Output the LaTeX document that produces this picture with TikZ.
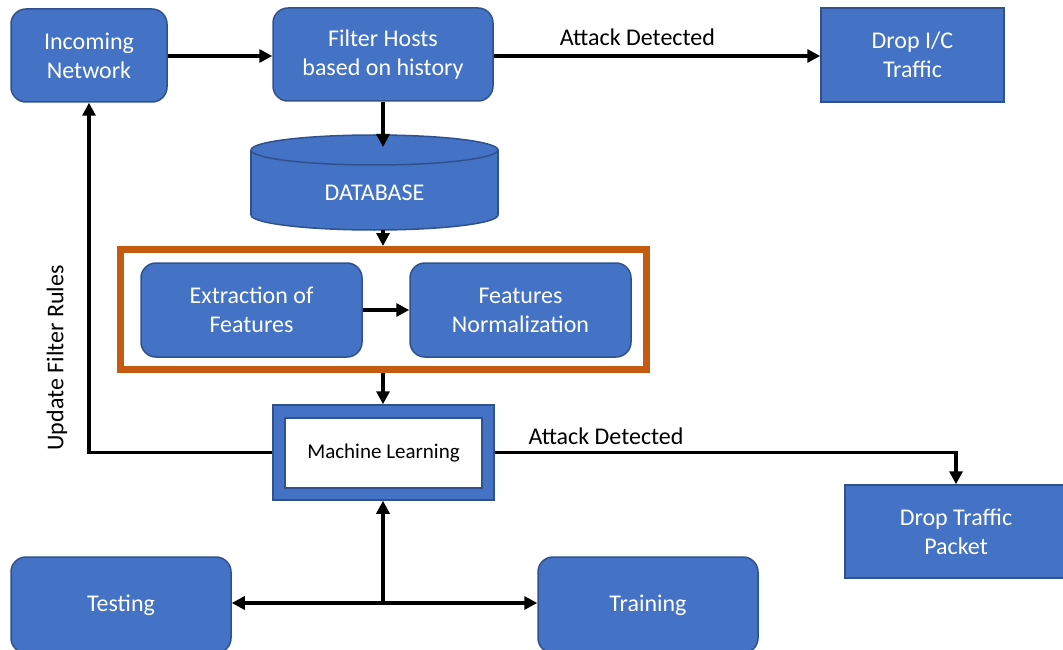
\documentclass[tikz,border=0pt]{standalone}
\usepackage{fontspec}
\setmainfont{Carlito}
\usetikzlibrary{arrows.meta}
\definecolor{bfill}{HTML}{4472C4}
\definecolor{bdraw}{HTML}{2F528F}
\definecolor{orng}{HTML}{C55A11}
\begin{document}
\begin{tikzpicture}[x=1pt,y=-1pt,
  box/.style={draw=bdraw, fill=bfill, line width=1.5pt, text=white, font=\fontsize{24}{29}\selectfont, align=center, inner sep=0pt},
  rbox/.style={box, rounded corners=15pt},
  conn/.style={line width=3.2pt, -{Triangle[length=13pt,width=13pt]}},
  dconn/.style={line width=3.2pt, {Triangle[length=13pt,width=13pt]}-{Triangle[length=13pt,width=13pt]}},
  lab/.style={font=\fontsize{24}{28}\selectfont, text=black, inner sep=0pt}]
\useasboundingbox (0,0) rectangle (1063,650);
\clip (0,0) rectangle (1063,650);
\fill[white] (0,0) rectangle (1063,650);

% top row
\node[rbox, minimum width=156pt, minimum height=93pt] (inc) at (89,55.5) {Incoming\\Network};
\node[rbox, minimum width=220pt, minimum height=93pt] (fh) at (383,54.5) {Filter Hosts\\based on history};
\node[box, minimum width=183pt, minimum height=94pt] (dic) at (912.5,55) {Drop I/C\\Traffic};

% database cylinder
\draw[bdraw, fill=bfill, line width=1.5pt] (374.5,215) ellipse [x radius=123.5, y radius=15];
\fill[bfill] (251,150) rectangle (498,215);
\draw[bdraw, line width=1.5pt] (251,150) -- (251,215) (498,150) -- (498,215);
\draw[bdraw, fill=bfill, line width=1.5pt] (374.5,150) ellipse [x radius=123.5, y radius=15];
\node[inner sep=0pt, minimum width=247pt, minimum height=95pt] (db) at (374.5,182.5) {};
\node[text=white, font=\fontsize{24}{28}\selectfont, inner sep=0pt] (dbt) at (374.5,193) {DATABASE};
\coordinate (dbin) at (383,147);
\coordinate (dbout) at (383,230);

% feature group
\node[draw=orng, line width=7pt, minimum width=526pt, minimum height=120pt, inner sep=0pt] (grp) at (383.5,309.5) {};
\node[rbox, minimum width=221pt, minimum height=94pt] (ext) at (251.5,310) {Extraction of\\Features};
\node[rbox, minimum width=221pt, minimum height=94pt] (nor) at (520.5,310) {Features\\Normalization};

% machine learning
\node[draw=bdraw, fill=bfill, line width=1.5pt, minimum width=221pt, minimum height=95pt, inner sep=0pt] (ml) at (383.5,452.5) {};
\node[draw=bdraw, fill=white, line width=1.5pt, minimum width=197pt, minimum height=70pt, inner sep=0pt, font=\fontsize{21}{25}\selectfont] (mlt) at (383.5,453) {Machine Learning};

% drop traffic packet
\node[box, minimum width=222pt, minimum height=93pt] (dtp) at (956,531.5) {Drop Traffic\\Packet};

% testing / training
\node[rbox, minimum width=220pt, minimum height=96pt] (test) at (121,605) {Testing};
\node[rbox, minimum width=220pt, minimum height=96pt] (train) at (648,605) {Training};
\coordinate (j) at (383,603);

% connectors
\draw[conn] (inc.east |- 0,56) -- (fh.west |- 0,56);
\draw[conn] (fh.east |- 0,56) -- node[lab, above=9pt, pos=0.44] {Attack Detected} (dic.west |- 0,56);
\draw[conn] (fh.south -| dbin) -- (dbin);
\draw[conn] (dbout) -- (grp.north -| dbout);
\draw[conn] (ext.east) -- (nor.west);
\draw[conn] (grp.south -| j) -- (ml.north -| j);
\draw[conn] (ml.west) -| (inc.south);
\draw[conn] (ml.east) -| (dtp.north);
\draw[conn] (j) -- (ml.south -| j);
\draw[dconn] (test.east |- j) -- (train.west |- j);

% labels
\node[lab, rotate=90] (ufr) at (57,358) {Update Filter Rules};
\node[lab] (ad2) at (606,436) {Attack Detected};
\end{tikzpicture}
\end{document}
